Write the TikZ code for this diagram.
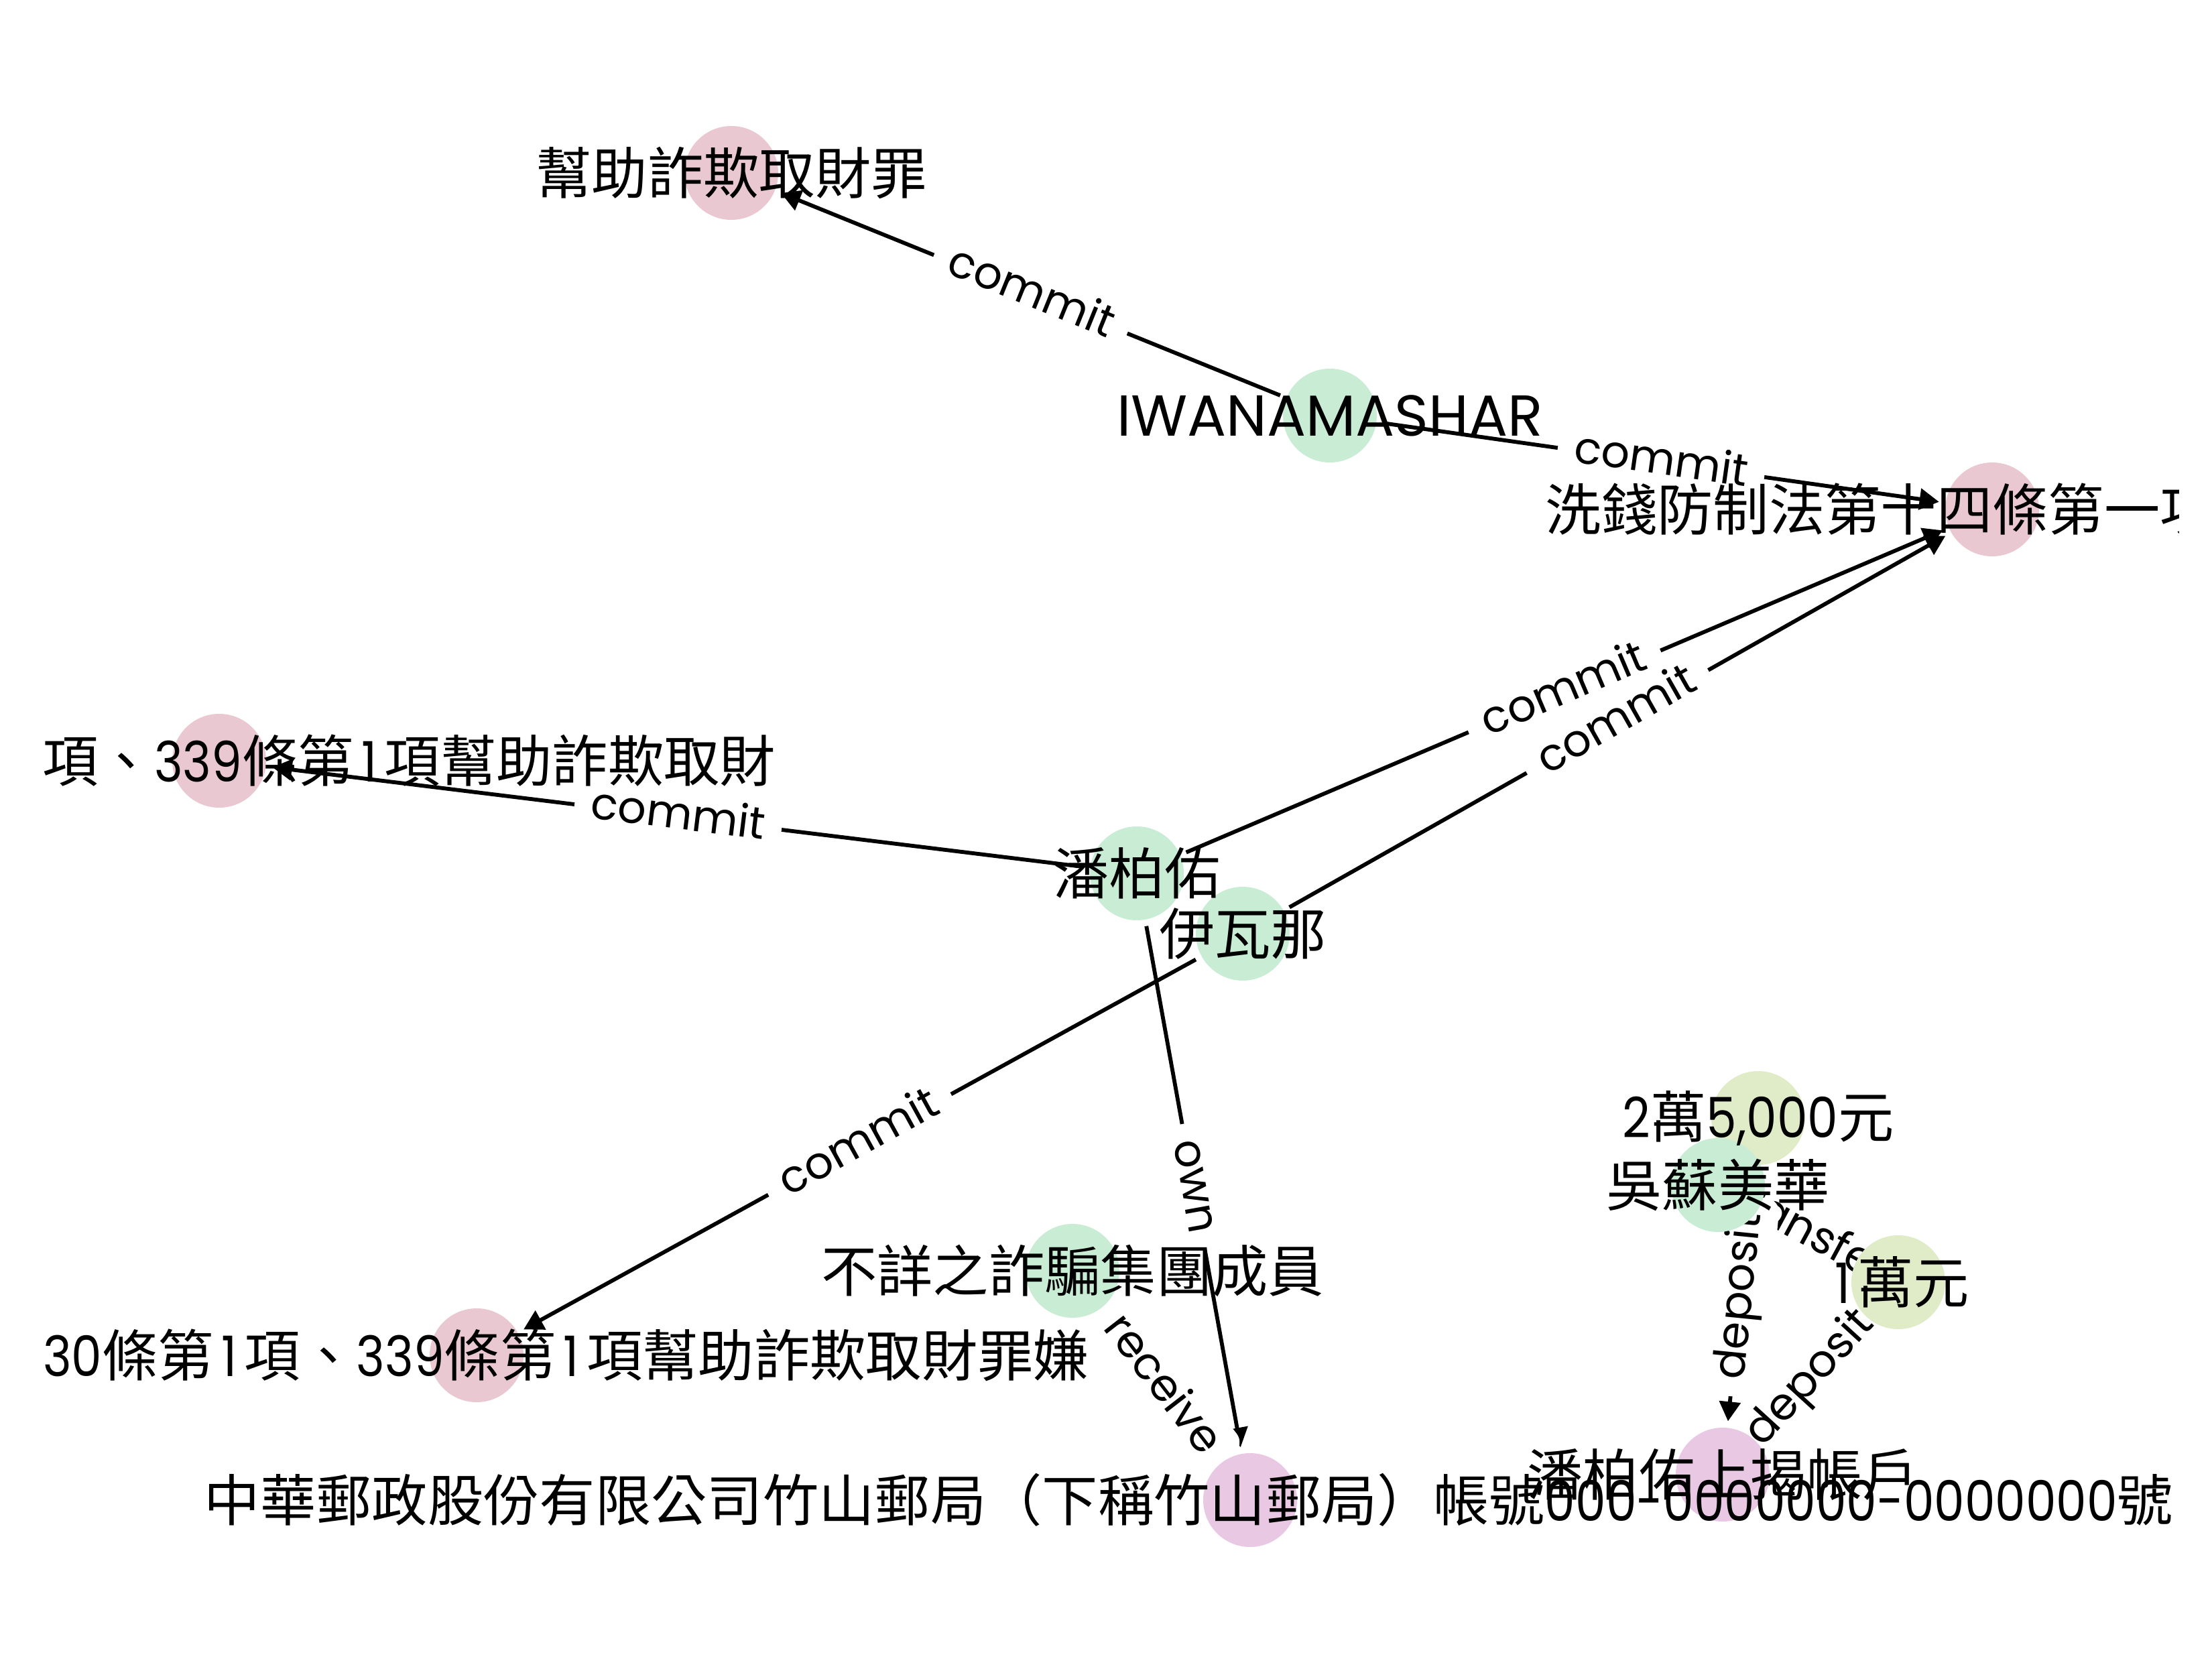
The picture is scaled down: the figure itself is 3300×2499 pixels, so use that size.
\documentclass[tikz,border=0pt]{standalone}
\usepackage{fontspec}
\setmainfont{Poppins}
\newfontfamily\cjk{Noto Sans CJK TC}
\newfontfamily\dig[FakeStretch=0.87]{Poppins}
% the figure one set on a full digit width
\newcommand\onefig{\makebox[11pt]{\dig 1}}
\usetikzlibrary{arrows.meta}

\pgfdeclarelayer{edgelayer}
\pgfdeclarelayer{labellayer}
\pgfsetlayers{edgelayer,labellayer,main}

\definecolor{nGreen}{RGB}{200,236,212}
\definecolor{nPink}{RGB}{234,200,210}
\definecolor{nOlive}{RGB}{224,235,200}
\definecolor{nPurple}{RGB}{232,200,226}

\tikzset{
  dot/.style={circle, minimum size=33.6pt, inner sep=0pt, outer sep=2.4pt, draw=none},
  tag/.style={inner sep=0pt, font=\fontsize{20}{24}\selectfont},
  link/.style={line width=1.4pt, -{Triangle[length=7pt,width=7.5pt]}},
  elabel/.style={sloped, midway, fill=white, rounded corners=5pt,
    inner xsep=6pt, inner ysep=3pt, text height=12pt, text depth=3.5pt,
    font=\fontsize{16}{19}\selectfont},
}

\begin{document}
\begin{tikzpicture}[x=0.24pt, y=-0.24pt]
\useasboundingbox (0,0) rectangle (3300,2499);

% entity circles
\node[dot, fill=nPink]   (B1) at (1091,258)  {};
\node[dot, fill=nGreen]  (IW) at (1984,620)  {};
\node[dot, fill=nPink]   (XQ) at (2972,760)  {};
\node[dot, fill=nPink]   (C1) at (327,1135)  {};
\node[dot, fill=nGreen]  (P)  at (1696,1303) {};
\node[dot, fill=nGreen]  (Y)  at (1854,1393) {};
\node[dot, fill=nPink]   (C2) at (711,2022)  {};
\node[dot, fill=nGreen]  (U)  at (1600,1896) {};
\node[dot, fill=nPurple] (Z)  at (1865,2238) {};
\node[dot, fill=nOlive]  (M1) at (2623,1668) {};
\node[dot, fill=nGreen]  (W)  at (2563,1768) {};
\node[dot, fill=nOlive]  (M2) at (2832,1913) {};
\node[dot, fill=nPurple] (A)  at (2570,2200) {};

% entity names, kept inside the plotting area
\begin{scope}
\clip (50,0) rectangle (3250,2499);
\node[tag] (B1L) at (B1) {\cjk 幫助詐欺取財罪};
\node[tag] (IWL) at (IW) {\fontsize{20.7}{24}\selectfont IWANAMASHAR};
\node[tag, anchor=west] (XQL) at (2305,760) {\cjk 洗錢防制法第十四條第一項};
\node[tag, anchor=east] (C1L) at (1158,1135) {{\cjk 項、}{\dig 339}{\cjk 條第}\onefig{\cjk 項幫助詐欺取財}};
\node[tag] (PL) at (P) {\cjk 潘柏佑};
\node[tag] (YL) at (Y) {\cjk 伊瓦那};
\node[tag, anchor=east] (C2L) at (1626,2022) {{\dig 30}{\cjk 條第}\onefig{\cjk 項、}{\dig 339}{\cjk 條第}\onefig{\cjk 項幫助詐欺取財罪嫌}};
\node[tag] (UL) at (U) {\cjk 不詳之詐騙集團成員};
\node[tag, anchor=east] (ZL) at (3243,2238) {{\cjk 中華郵政股份有限公司竹山郵局（下稱竹山郵局）帳號}{\dig 000-0000000-0000000}{\cjk 號}};
\node[tag] (M1L) at (M1) {{\dig 2}{\cjk 萬}{\dig 5,000}{\cjk 元}};
\node[tag] (WL) at (W) {\cjk 吳蘇美華};
\node[tag] (M2L) at (M2) {\onefig{\cjk 萬元}};
\node[tag] (AL) at (A) {\cjk 潘柏佑上揭帳戶};
\end{scope}

% relation lines
\begin{pgfonlayer}{edgelayer}
\draw[link] (IW) -- (B1);
\draw[link] (IW) -- (XQ);
\draw[link] (P) -- (XQ);
\draw[link] (Y) -- (XQ);
\draw[link] (P) -- (C1);
\draw[link] (Y) -- (C2);
\draw[link] (P) -- (Z);
\draw[link] (U) -- (Z);
\draw[link] (W) -- (M2);
\draw[link] (M2) -- (A);
\draw[link] (M1) -- (A);
\end{pgfonlayer}

% relation labels
\begin{pgfonlayer}{labellayer}
\path (IW) -- (B1) node[elabel] (e1) {commit};
\path (IW) -- (XQ) node[elabel] (e2) {commit};
\path (P) -- (XQ) node[elabel] (e3) {commit};
\path (Y) -- (XQ) node[elabel] (e4) {commit};
\path (P) -- (C1) node[elabel] (e5) {commit};
\path (Y) -- (C2) node[elabel] (e6) {commit};
\path (P) -- (Z) node[elabel] (e7) {own};
\path (U) -- (Z) node[elabel] (e8) {receive};
\path (W) -- (M2) node[elabel] (e9) {transfer};
\path (M2) -- (A) node[elabel] (e10) {deposit};
\path (M1) -- (A) node[elabel] (e11) {deposit};
\end{pgfonlayer}
\end{tikzpicture}
\end{document}
